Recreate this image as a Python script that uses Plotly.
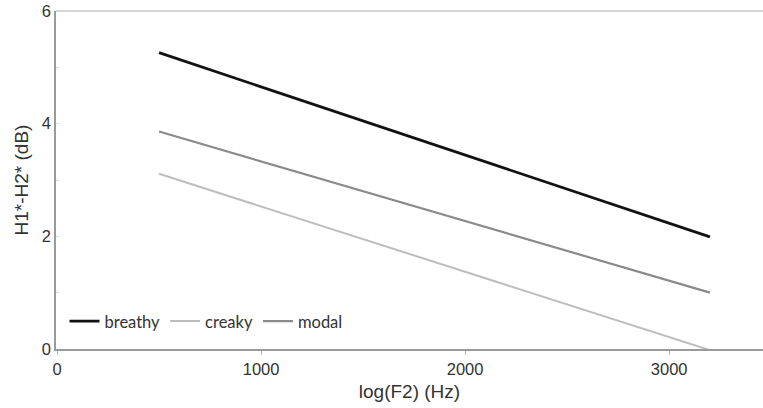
import plotly.graph_objects as go

# Fitted regression lines: H1*-H2* against log(F2)
f2_hz = [500, 3200]
breathy = [5.26, 1.99]
creaky = [3.11, -0.02]
modal = [3.86, 1.00]

series = [
    ("breathy", breathy, "#111111", 2.8),
    ("creaky", creaky, "#bdbdbd", 2.0),
    ("modal", modal, "#8a8a8a", 2.2),
]

x_ticks = [0, 1000, 2000, 3000]
y_ticks = [0, 2, 4, 6]

tick_font = dict(family="Liberation Sans", size=16.5, color="#333333")
title_font = dict(family="Liberation Sans", size=19, color="#333333")

fig = go.Figure()
for name, vals, color, width in series:
    fig.add_trace(go.Scatter(
        x=f2_hz, y=vals, mode="lines", name=name,
        line=dict(color=color, width=width),
    ))

fig.update_layout(
    width=763, height=408,
    margin=dict(l=56, r=0, t=11, b=59),
    paper_bgcolor="white", plot_bgcolor="white",
    font=tick_font,
    showlegend=True,
    legend=dict(
        orientation="h", x=0.012, y=0.03, xanchor="left", yanchor="bottom",
        bgcolor="rgba(0,0,0,0)",
        font=dict(family="Lato", size=16.5, color="#333333"),
        itemwidth=30, tracegroupgap=0,
    ),
    xaxis=dict(
        range=[-5, 3460], tickvals=x_ticks, ticktext=[str(v) for v in x_ticks],
        showgrid=False, zeroline=False,
        showline=True, linecolor="#9a9a9a", linewidth=1.5,
        ticks="outside", ticklen=4, tickcolor="#bbbbbb",
        tickfont=tick_font,
        title=dict(text="log(F2) (Hz)", font=title_font, standoff=8),
    ),
    yaxis=dict(
        range=[0, 6], tickvals=y_ticks, ticktext=[str(v) for v in y_ticks],
        showgrid=False, zeroline=False,
        showline=True, linecolor="#9a9a9a", linewidth=1.5,
        ticks="inside", ticklen=3, tickcolor="#dddddd", tickfont=tick_font,
        minor=dict(tickvals=[1, 3, 5], ticks="inside", ticklen=3, tickcolor="#dddddd"),
        title=dict(text="H1*-H2* (dB)", font=title_font, standoff=8),
    ),
)

# Light frame line along the top of the plotting area
fig.add_shape(type="line", xref="paper", yref="paper", x0=0, x1=1, y0=1, y1=1,
              line=dict(color="#c8c8c8", width=1.5))

fig.write_html("out.html")
